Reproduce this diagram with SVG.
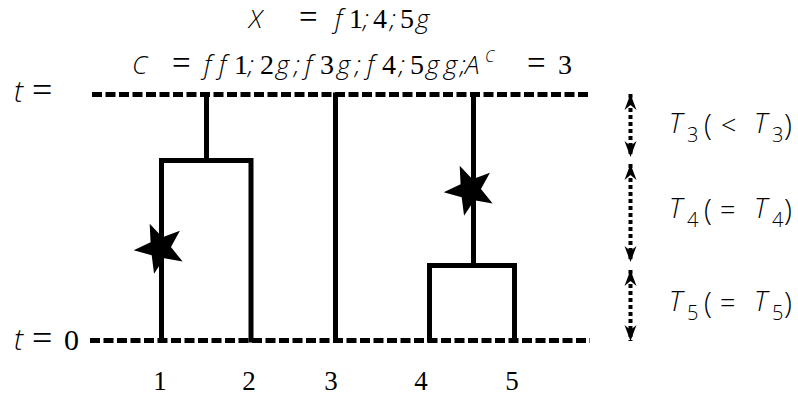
<svg xmlns="http://www.w3.org/2000/svg" width="798" height="396" viewBox="0 0 798 396">
<style>
text{font-variant-ligatures:none}
.it{font-family:"Open Sans","DejaVu Sans",sans-serif;font-style:italic;font-weight:300;fill:#000}
.rm{font-family:"Liberation Serif","DejaVu Serif",serif;fill:#000}
.sf{font-family:"Open Sans","DejaVu Sans",sans-serif;font-weight:300;fill:#000}
.base{fill:none;stroke:#000;stroke-width:5;stroke-dasharray:10 3.5}
.br{fill:none;stroke:#000;stroke-width:5;stroke-linecap:square;stroke-linejoin:miter}
.dot{fill:none;stroke:#000;stroke-width:4;stroke-dasharray:4 3}
</style>
<defs>
<polygon id="star" transform="scale(1.1)" points="-9.38,-22.09 2.25,-9.74 18.11,-15.75 9.96,-0.87 20.57,12.36 3.91,9.21 -5.40,23.39 -7.55,6.56 -23.91,2.09 -8.57,-5.15" fill="#000"/>
<marker id="ah" viewBox="-17 -7 18 14" refX="0" refY="0" markerWidth="18" markerHeight="14" markerUnits="userSpaceOnUse" orient="auto-start-reverse">
<path d="M0,0 L-16,-6 L-11,0 L-16,6 Z" fill="#000"/>
</marker>
</defs>
<g id="title">
<text y="28" font-size="26"><tspan class="it" x="249">X</tspan><tspan class="rm" x="299" font-size="33">=</tspan><tspan class="it" x="335">f</tspan><tspan class="rm" x="349" font-size="28">1</tspan><tspan class="it" x="363">;</tspan><tspan class="rm" x="373" font-size="28">4</tspan><tspan class="it" x="390">;</tspan><tspan class="rm" x="400" font-size="28">5</tspan><tspan class="it" x="416">g</tspan></text>
<text y="74" font-size="26"><tspan class="it" x="204">f</tspan><tspan class="it" x="219">f</tspan><tspan class="rm" x="234" font-size="28">1</tspan><tspan class="it" x="248">;</tspan><tspan class="rm" x="260" font-size="28">2</tspan><tspan class="it" x="276">g</tspan><tspan class="it" x="294">;</tspan><tspan class="it" x="305">f</tspan><tspan class="rm" x="320" font-size="28">3</tspan><tspan class="it" x="337">g</tspan><tspan class="it" x="355">;</tspan><tspan class="it" x="367">f</tspan><tspan class="rm" x="382" font-size="28">4</tspan><tspan class="it" x="399">;</tspan><tspan class="rm" x="410" font-size="28">5</tspan><tspan class="it" x="426">g</tspan><tspan class="it" x="444">g</tspan><tspan class="it" x="460">;</tspan><tspan class="it" x="465">A</tspan><tspan class="it" x="485" y="62" font-size="16">C</tspan><tspan class="rm" x="527" y="74" font-size="33">=</tspan><tspan class="rm" x="558" font-size="28">3</tspan><tspan class="it" x="132">C</tspan><tspan class="rm" x="172" font-size="33">=</tspan></text>
</g>
<g id="time-labels">
<text y="102" font-size="29"><tspan class="it" x="14">t</tspan><tspan class="rm" x="32" font-size="36">=</tspan></text>
<text y="350" font-size="29"><tspan class="it" x="14">t</tspan><tspan class="rm" x="32" font-size="36">=</tspan><tspan class="rm" x="64" font-size="30">0</tspan></text>
</g>
<g id="connectors">
<line class="base" x1="92" y1="94.5" x2="590" y2="94.5"/>
<line class="base" x1="90" y1="340.5" x2="590" y2="340.5"/>
</g>
<g id="tree-12">
<path class="br" d="M161.5,340 V160.5 H251 V340 M206.5,160.5 V95"/>
<use href="#star" x="160" y="248"/>
</g>
<g id="leaf-3">
<path class="br" d="M335.5,95 V340"/>
</g>
<g id="tree-45">
<path class="br" d="M429.5,340 V265.5 H514.5 V340 M473.5,265.5 V95"/>
<use href="#star" x="470" y="190"/>
</g>
<g id="leaf-labels">
<text class="rm" font-size="27" y="390" text-anchor="middle"><tspan x="160">1</tspan><tspan x="249">2</tspan><tspan x="331">3</tspan><tspan x="421">4</tspan><tspan x="512">5</tspan></text>
</g>
<g id="intervals">
<line class="dot" x1="630.5" y1="94" x2="630.5" y2="157" marker-start="url(#ah)" marker-end="url(#ah)"/>
<line class="dot" x1="630.5" y1="164" x2="630.5" y2="262" marker-start="url(#ah)" marker-end="url(#ah)"/>
<line class="dot" x1="630.5" y1="270" x2="630.5" y2="341" marker-start="url(#ah)" marker-end="url(#ah)"/>
</g>
<g id="interval-labels">
<text y="133" font-size="27"><tspan class="it" x="669">T</tspan><tspan class="sf" x="687" y="142" font-size="20">3</tspan><tspan class="sf" x="704" y="135" font-size="29">(</tspan><tspan class="sf" x="721">&lt;</tspan><tspan class="it" x="754" y="133">T</tspan><tspan class="sf" x="772" y="142" font-size="20">3</tspan><tspan class="sf" x="784" y="135" font-size="29">)</tspan></text>
<text y="218" font-size="27"><tspan class="it" x="669">T</tspan><tspan class="sf" x="687" y="227" font-size="20">4</tspan><tspan class="sf" x="704" y="220" font-size="29">(</tspan><tspan class="sf" x="720">=</tspan><tspan class="it" x="754" y="218">T</tspan><tspan class="sf" x="772" y="227" font-size="20">4</tspan><tspan class="sf" x="784" y="220" font-size="29">)</tspan></text>
<text y="311" font-size="27"><tspan class="it" x="669">T</tspan><tspan class="sf" x="687" y="320" font-size="20">5</tspan><tspan class="sf" x="704" y="313" font-size="29">(</tspan><tspan class="sf" x="720">=</tspan><tspan class="it" x="754" y="311">T</tspan><tspan class="sf" x="772" y="320" font-size="20">5</tspan><tspan class="sf" x="784" y="313" font-size="29">)</tspan></text>
</g>
</svg>
